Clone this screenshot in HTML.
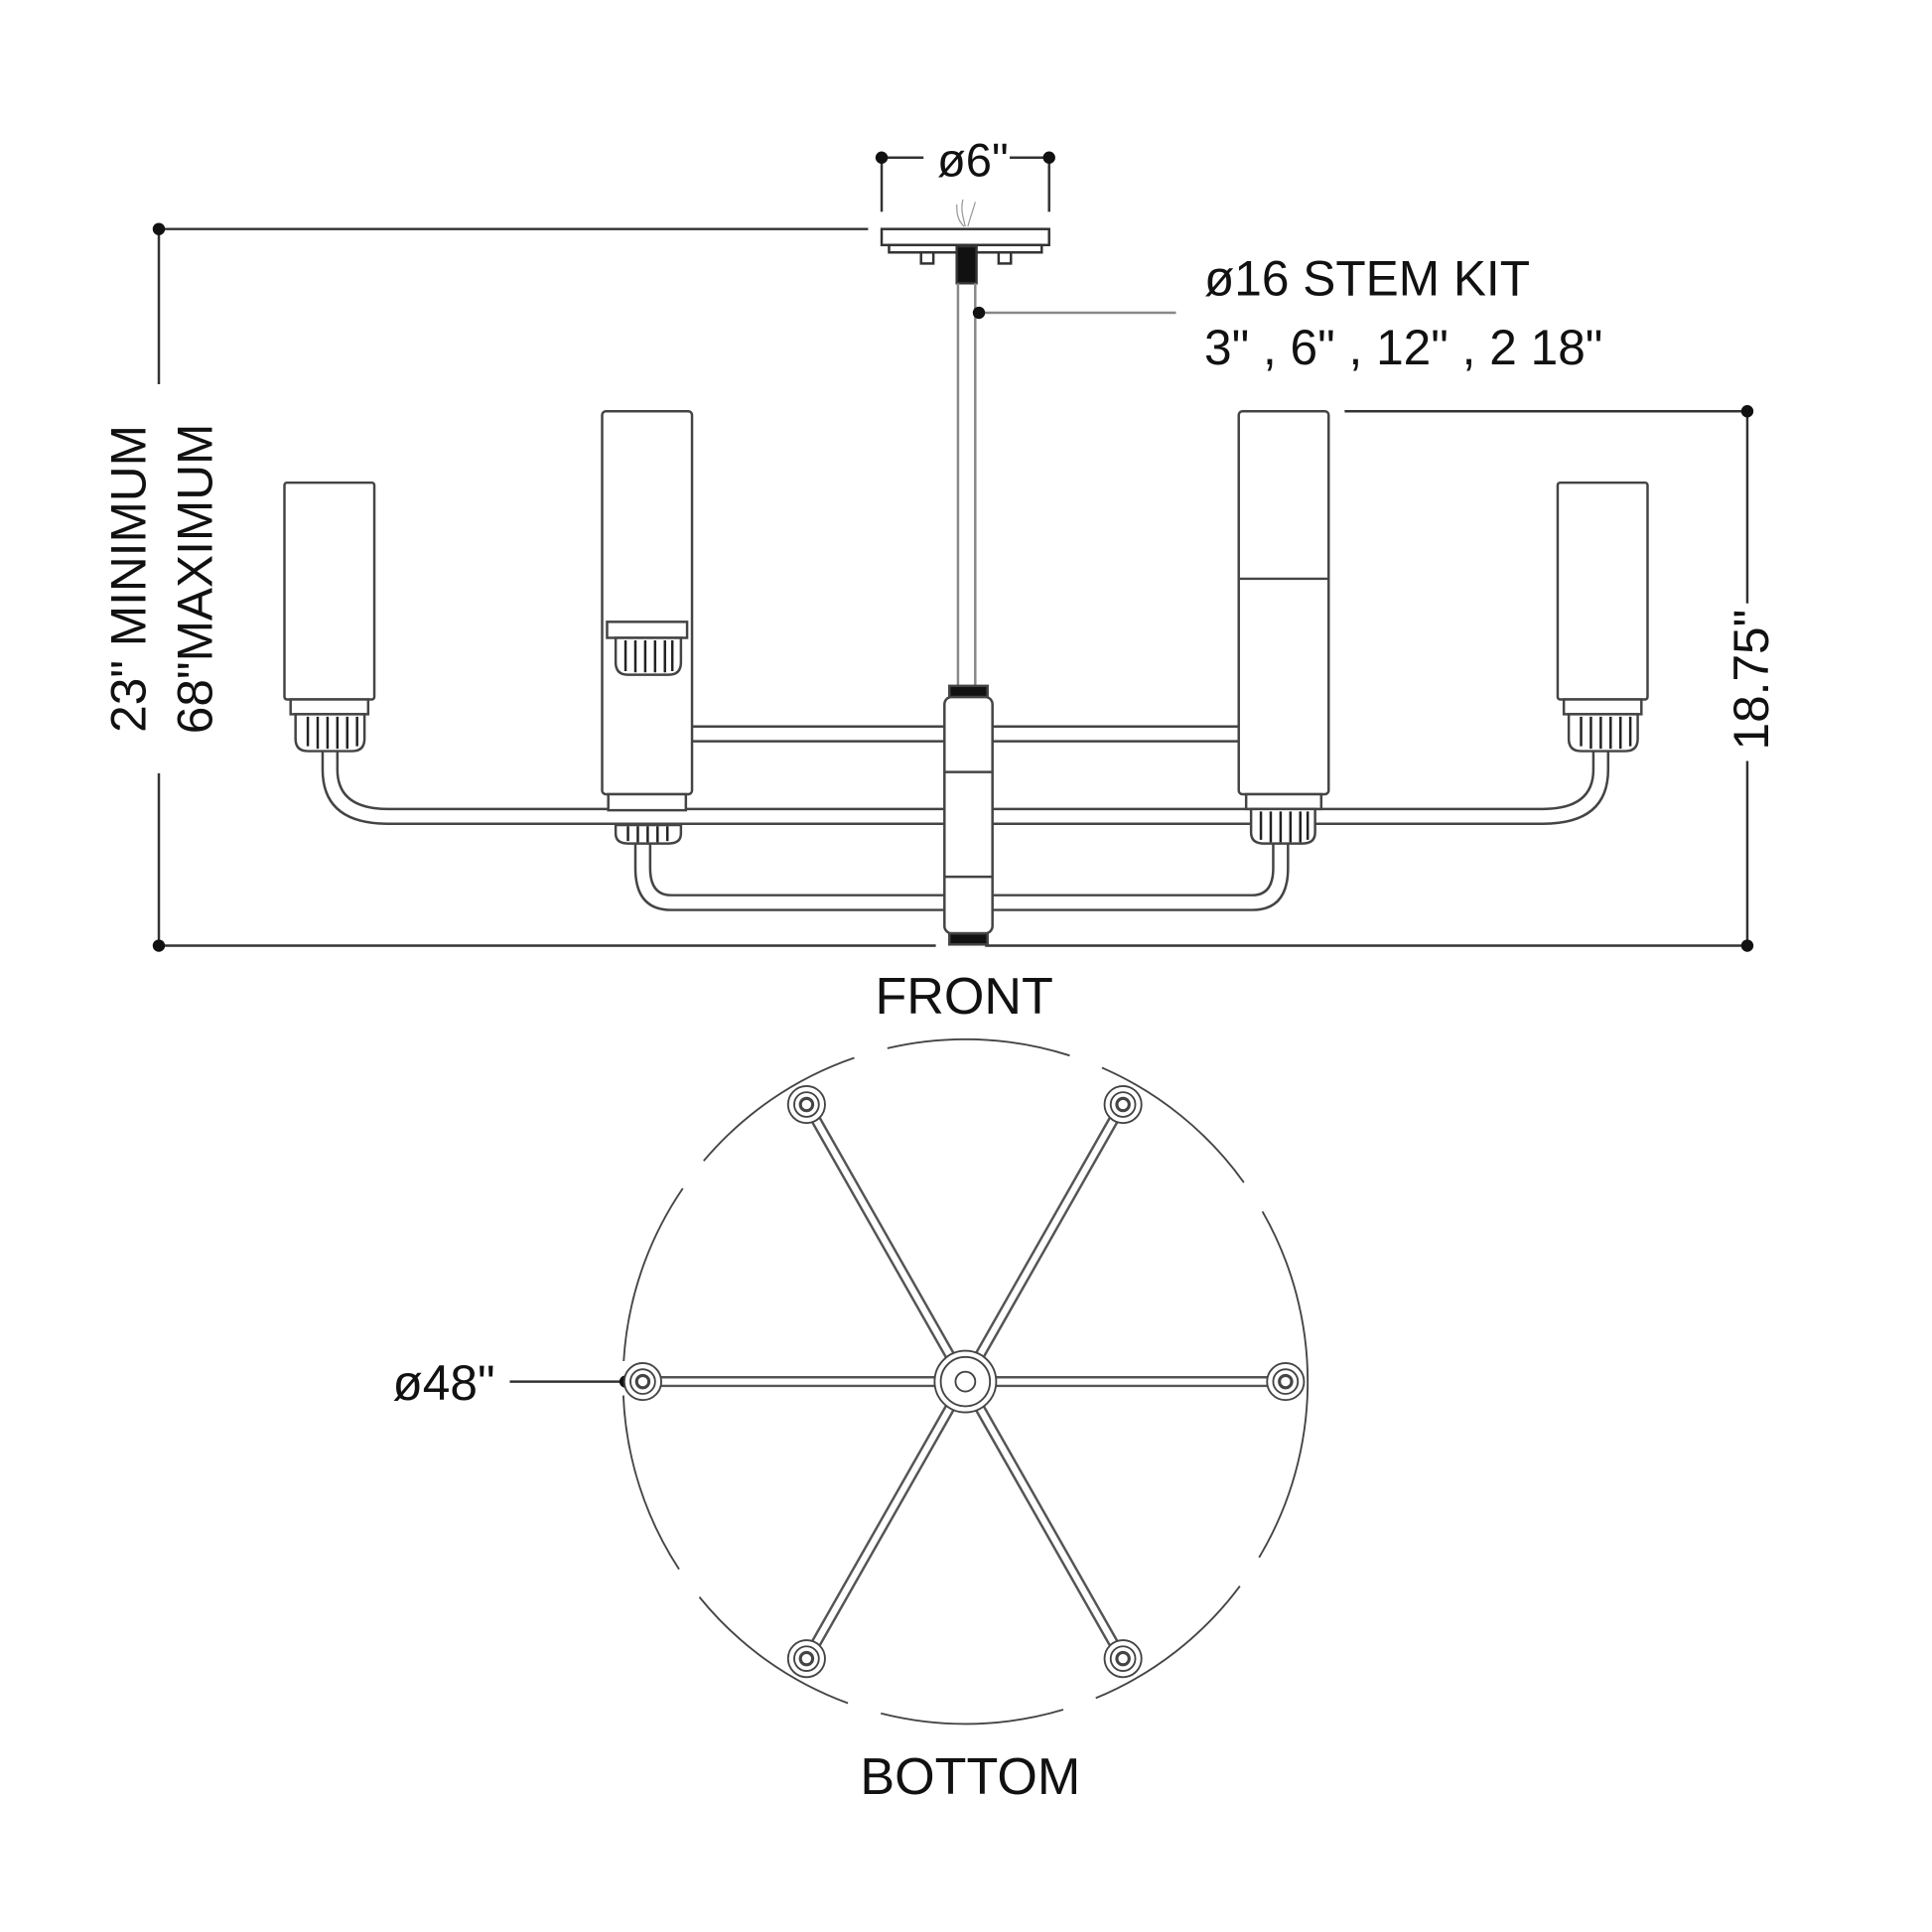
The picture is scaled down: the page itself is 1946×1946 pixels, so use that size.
<!DOCTYPE html>
<html><head><meta charset="utf-8"><style>html,body{margin:0;padding:0;background:#fff}svg{display:block}</style></head>
<body>
<svg width="1946" height="1946" viewBox="0 0 1569 1569" xmlns="http://www.w3.org/2000/svg" font-family="Liberation Sans, sans-serif">
<rect width="1569" height="1569" fill="#fff"/>
<g stroke="#333" stroke-width="2" fill="none">
<line x1="716" y1="128" x2="716" y2="172"/><line x1="852" y1="128" x2="852" y2="172"/>
<line x1="716" y1="128" x2="750" y2="128"/><line x1="820" y1="128" x2="852" y2="128"/>
<rect x="716" y="186" width="136" height="13" fill="#fff"/>
<rect x="722" y="199" width="124" height="6" fill="#fff"/>
<rect x="748" y="205" width="10" height="9"/><rect x="811" y="205" width="10" height="9"/>
<rect x="777" y="200" width="16" height="30" fill="#111"/>
<path d="M784 184 c-2-8 -4-14 -2-22 M786 184 c2-8 4-12 6-20 M783 184 c-6-6-6-12-6-18" stroke="#999" stroke-width="1"/>
<line x1="778" y1="230" x2="778" y2="558" stroke="#888"/><line x1="792" y1="230" x2="792" y2="558" stroke="#888"/>
<line x1="795" y1="254" x2="955" y2="254" stroke="#888"/>
<line x1="129" y1="186" x2="705" y2="186"/>
<line x1="129" y1="186" x2="129" y2="312"/><line x1="129" y1="628" x2="129" y2="768"/>
<line x1="129" y1="768" x2="760" y2="768"/><line x1="800" y1="768" x2="1419" y2="768"/>
<line x1="1092" y1="334" x2="1419" y2="334"/>
<line x1="1419" y1="334" x2="1419" y2="490"/><line x1="1419" y1="618" x2="1419" y2="768"/>
<line x1="414" y1="1122" x2="508" y2="1122"/>
</g>
<g fill="#111">
<circle cx="716" cy="128" r="5"/><circle cx="852" cy="128" r="5"/>
<circle cx="795" cy="254" r="5"/><circle cx="129" cy="186" r="5"/><circle cx="129" cy="768" r="5"/>
<circle cx="1419" cy="768" r="5"/><circle cx="1419" cy="334" r="5"/><circle cx="508" cy="1122" r="5"/>
</g>
<g stroke="#444" stroke-width="2" fill="#fff">
<path d="M262 610 V625 Q262 669 315 669 H767 M274 610 V625 Q274 657 315 657 H767" fill="none"/>
<path d="M1306 610 V625 Q1306 669 1253 669 H806 M1294 610 V625 Q1294 657 1253 657 H806" fill="none"/>
<path d="M516 548 V565 Q516 602 545 602 H778 M528 548 V565 Q528 590 545 590 H778" fill="none"/>
<path d="M806 590 H1006 M806 602 H1006" fill="none"/>
<path d="M516 685 V705 Q516 739 545 739 H767 M528 685 V705 Q528 727 545 727 H767" fill="none"/>
<path d="M1046 685 V705 Q1046 739 1017 739 H795 M1034 685 V705 Q1034 727 1017 727 H795" fill="none"/>
<rect x="231" y="392" width="73" height="176" rx="2"/>
<rect x="236" y="568" width="63" height="12"/>
<path d="M240 580 H296 V600 Q296 610 286 610 H250 Q240 610 240 600 Z"/>
<path d="M250 582 V606 M258 582 V608 M266 582 V608 M274 582 V608 M282 582 V608 M290 582 V606" stroke="#222"/>
<rect x="1265" y="392" width="73" height="176" rx="2"/>
<rect x="1270" y="568" width="63" height="12"/>
<path d="M1274 580 H1330 V600 Q1330 610 1320 610 H1284 Q1274 610 1274 600 Z"/>
<path d="M1284 582 V606 M1292 582 V608 M1300 582 V608 M1308 582 V608 M1316 582 V608 M1324 582 V606" stroke="#222"/>
<rect x="489" y="334" width="73" height="311" rx="3"/>
<rect x="494" y="645" width="63" height="13"/>
<rect x="493" y="505" width="65" height="13"/>
<path d="M500 518 H553 V538 Q553 548 543 548 H510 Q500 548 500 538 Z"/>
<path d="M508 520 V545 M516 520 V546 M524 520 V546 M532 520 V546 M540 520 V546 M546 520 V545" stroke="#222"/>
<path d="M500 670 H553 V677 Q553 685 543 685 H510 Q500 685 500 677 Z"/>
<path d="M510 671 V683 M518 671 V684 M526 671 V684 M534 671 V684 M542 671 V683" stroke="#222"/>
<rect x="1006" y="334" width="73" height="311" rx="3"/>
<line x1="1006" y1="470" x2="1079" y2="470"/>
<rect x="1012" y="645" width="61" height="12"/>
<path d="M1016 657 H1068 V676 Q1068 685 1058 685 H1026 Q1016 685 1016 676 Z"/>
<path d="M1024 659 V682 M1032 659 V684 M1040 659 V684 M1048 659 V684 M1056 659 V684 M1062 659 V682" stroke="#222"/>
<rect x="767" y="566" width="39" height="192" rx="6"/>
<line x1="767" y1="627" x2="806" y2="627"/><line x1="767" y1="712" x2="806" y2="712"/>
<rect x="771" y="557" width="31" height="9" fill="#111"/>
<rect x="771" y="758" width="31" height="9" fill="#111"/>
</g>
<circle cx="784" cy="1122" r="278" fill="none" stroke="#444" stroke-width="1.5" stroke-dasharray="150 28"/>
<g stroke="#555" stroke-width="9" stroke-linecap="round"><line x1="522" y1="1122" x2="1044" y2="1122"/><line x1="655" y1="896" x2="912" y2="1348"/><line x1="912" y1="896" x2="655" y2="1348"/></g>
<g stroke="#fff" stroke-width="5"><line x1="522" y1="1122" x2="1044" y2="1122"/><line x1="655" y1="896" x2="912" y2="1348"/><line x1="912" y1="896" x2="655" y2="1348"/></g>
<g fill="#fff" stroke="#444" stroke-width="1.5">
<circle cx="784" cy="1122" r="25"/><circle cx="784" cy="1122" r="20" fill="none"/><circle cx="784" cy="1122" r="8"/>
<circle cx="522" cy="1122" r="15"/><circle cx="522" cy="1122" r="10" fill="none"/><circle cx="522" cy="1122" r="5" stroke-width="2.5"/>
<circle cx="1044" cy="1122" r="15"/><circle cx="1044" cy="1122" r="10" fill="none"/><circle cx="1044" cy="1122" r="5" stroke-width="2.5"/>
<circle cx="655" cy="897" r="15"/><circle cx="655" cy="897" r="10" fill="none"/><circle cx="655" cy="897" r="5" stroke-width="2.5"/>
<circle cx="912" cy="897" r="15"/><circle cx="912" cy="897" r="10" fill="none"/><circle cx="912" cy="897" r="5" stroke-width="2.5"/>
<circle cx="655" cy="1347" r="15"/><circle cx="655" cy="1347" r="10" fill="none"/><circle cx="655" cy="1347" r="5" stroke-width="2.5"/>
<circle cx="912" cy="1347" r="15"/><circle cx="912" cy="1347" r="10" fill="none"/><circle cx="912" cy="1347" r="5" stroke-width="2.5"/>
</g>
<g fill="#111" font-size="40">
<text x="790" y="143" text-anchor="middle" font-size="38">ø6"</text>
<text x="978" y="240">ø16 STEM KIT</text>
<text x="978" y="296">3" , 6" , 12" , 2 18"</text>
<text x="783" y="823" text-anchor="middle" font-size="42">FRONT</text>
<text x="788" y="1457" text-anchor="middle" font-size="42">BOTTOM</text>
<text x="402" y="1137" text-anchor="end">ø48"</text>
<text transform="translate(118,470) rotate(-90)" text-anchor="middle">23" MINIMUM</text>
<text transform="translate(172,470) rotate(-90)" text-anchor="middle">68"MAXIMUM</text>
<text transform="translate(1436,552) rotate(-90)" text-anchor="middle">18.75"</text>
</g>
</svg>
</body></html>
